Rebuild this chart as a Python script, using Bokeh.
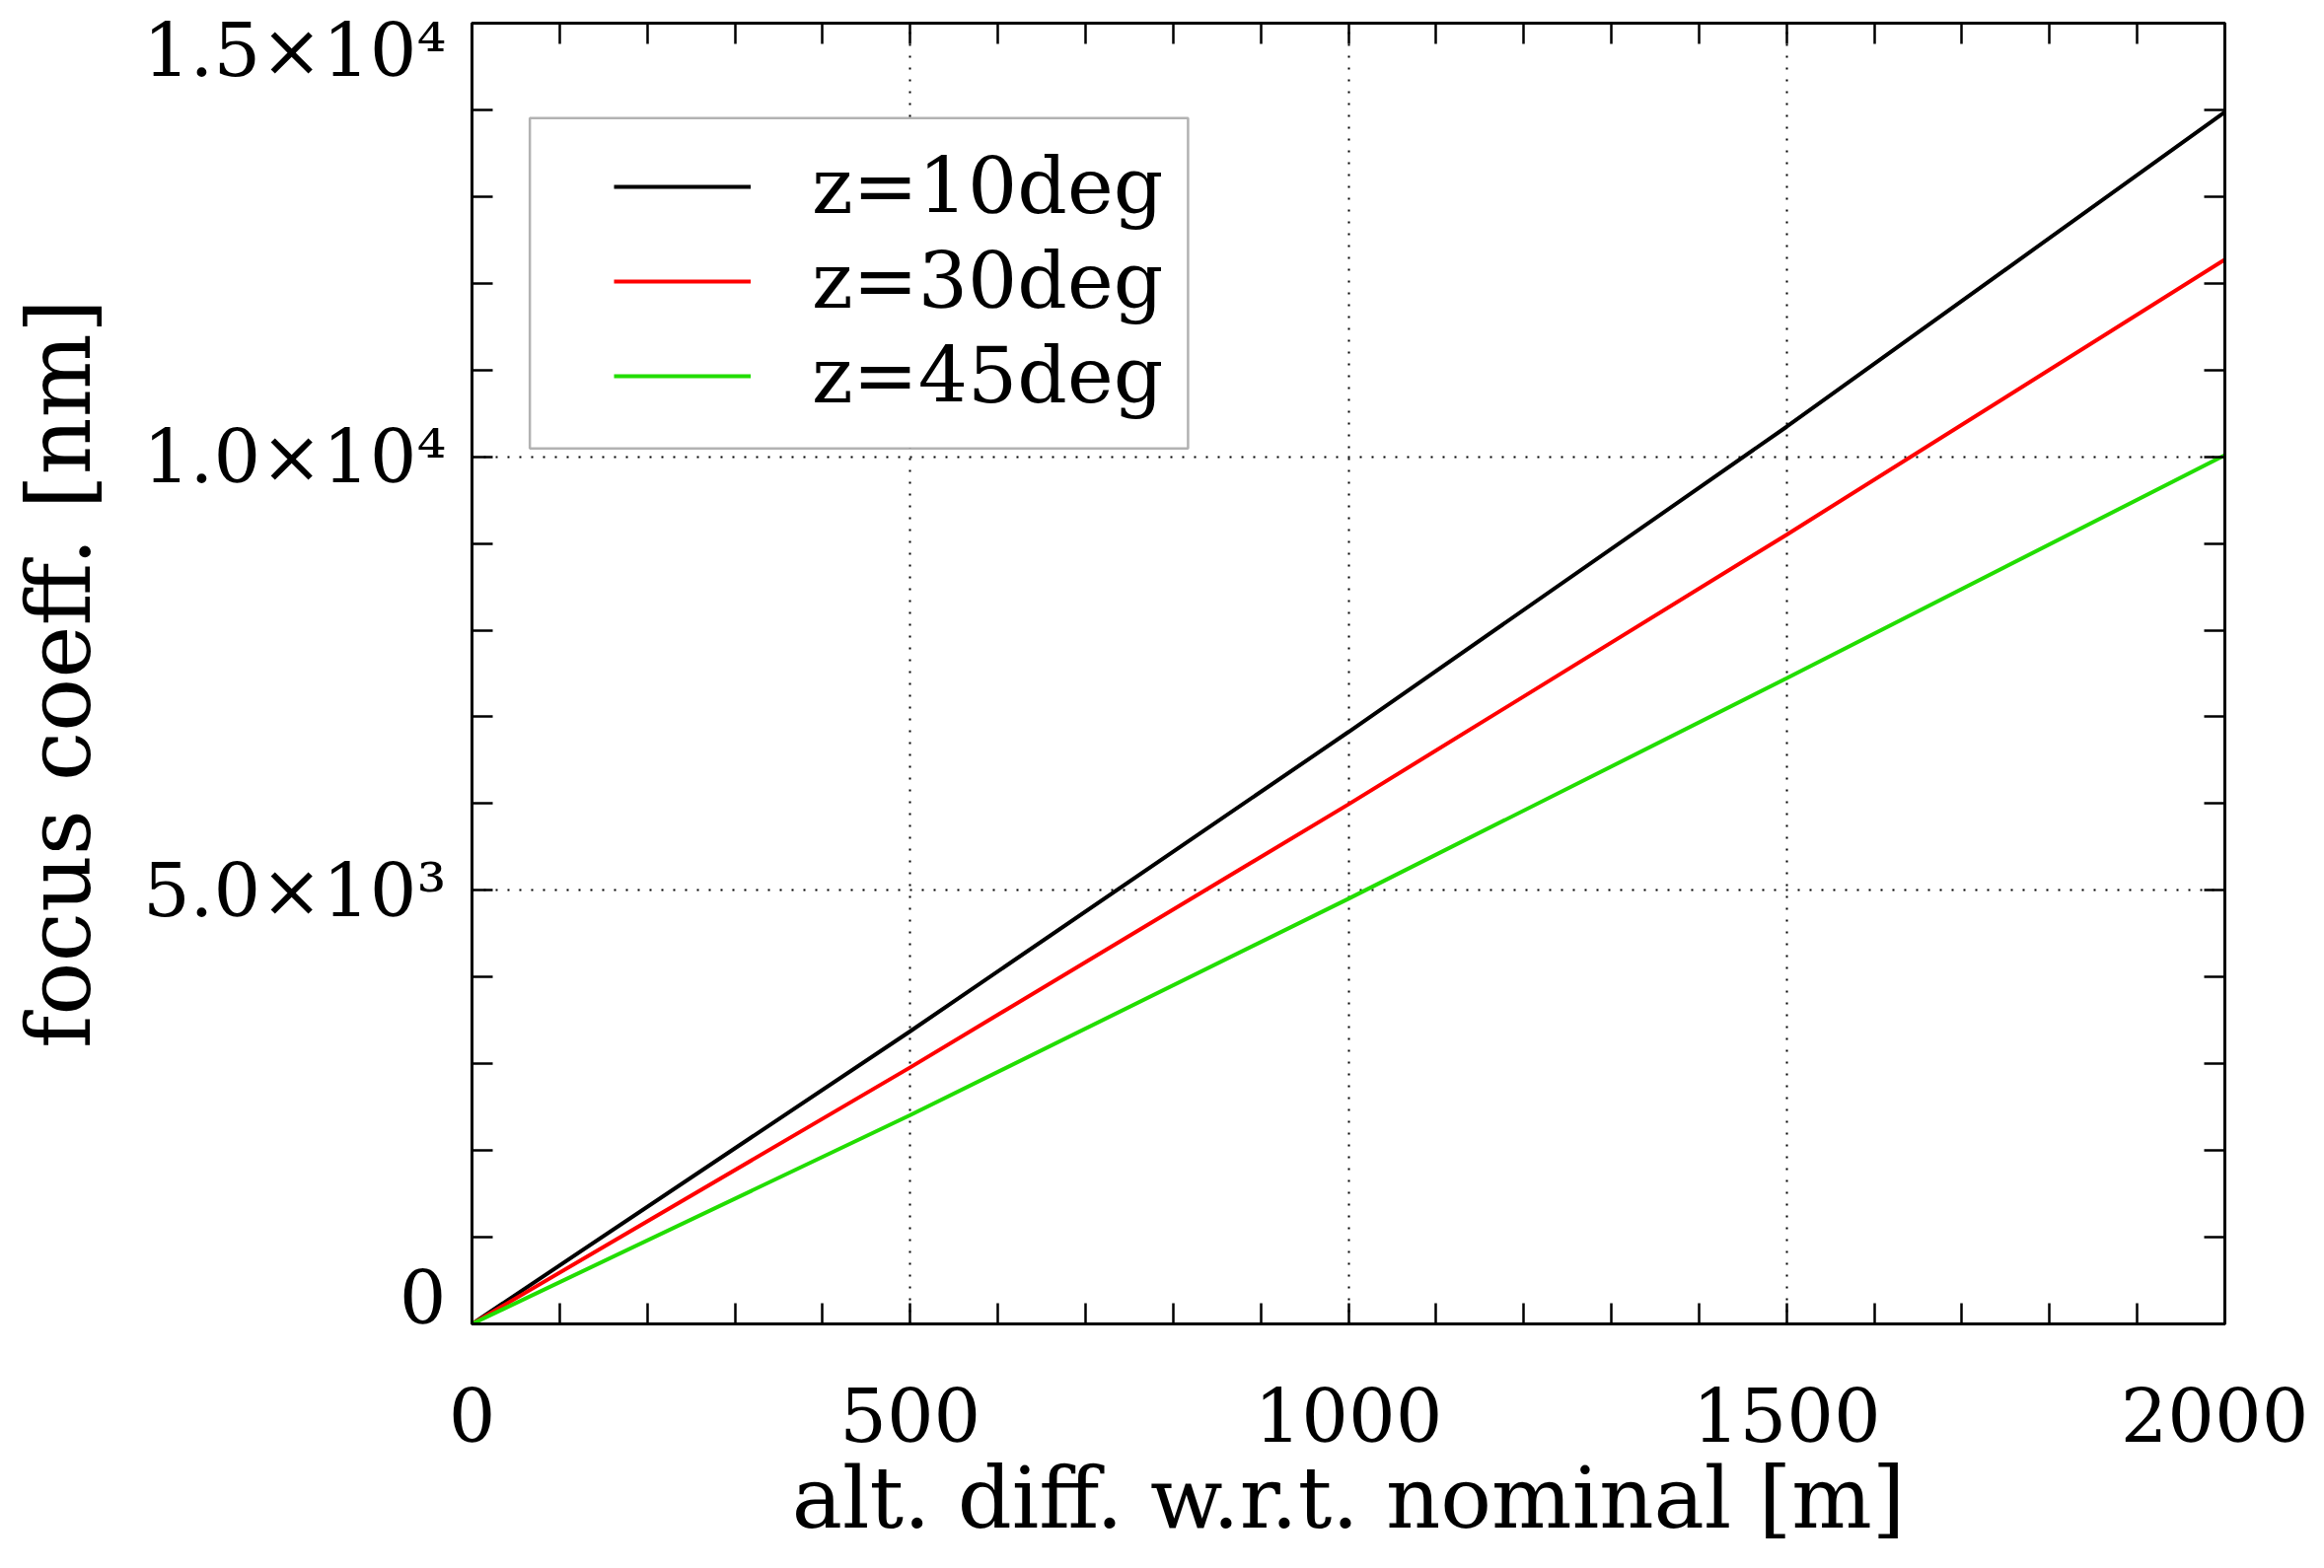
from bokeh.plotting import figure
from bokeh.models import (Range1d, SingleIntervalTicker, FixedTicker, LinearAxis,
                          Legend, LegendItem, BoxAnnotation)
from bokeh.embed import file_html
from bokeh.resources import INLINE

# ---- data ----
alt_diff = [0, 500, 1000, 1500, 2000]
z10 = [0, 3375, 6826, 10346, 13975]
z30 = [0, 2958, 5992, 9101, 12275]
z45 = [0, 2408, 4903, 7445, 10019]
series_names = ["z=10deg", "z=30deg", "z=45deg"]
series_colors = ["#000000", "#ff0000", "#22dd00"]
ytick_vals = [0, 5000, 10000, 15000]
ytick_labels = ["0", "5.0×10³", "1.0×10⁴", "1.5×10⁴"]
xlabel = "alt. diff. w.r.t. nominal [m]"
ylabel = "focus coeff. [nm]"
legend_box = dict(left=66, right=817, top=13906, bottom=10097)

FONT = "DejaVu Serif"
W, H = 2340, 1574
FRAME_H = H - 23 - 232
# end labels are kept inside the axis span (shifted ~27px inward), as in the original
label_shift_px = [27, 0, 0, -27]
units_per_px = 15000 / FRAME_H
label_anchor = [v + s * units_per_px for v, s in zip(ytick_vals, label_shift_px)]

p = figure(width=W, height=H, output_backend="svg", toolbar_location=None,
           x_range=Range1d(0, 2000), y_range=Range1d(0, 15000),
           min_border_left=478, min_border_right=85, min_border_top=23,
           min_border_bottom=232)
p.background_fill_color = "white"
p.border_fill_color = "white"
p.outline_line_color = "black"
p.outline_line_width = 3

xt = SingleIntervalTicker(interval=500, num_minor_ticks=5)
yt = SingleIntervalTicker(interval=5000, num_minor_ticks=5)

def style_axis(ax, show_labels):
    ax.axis_line_color = "black"
    ax.axis_line_width = 3
    ax.major_tick_in = 0
    ax.major_tick_out = 0
    ax.minor_tick_in = 21
    ax.minor_tick_out = 0
    ax.minor_tick_line_width = 2.5
    ax.minor_tick_line_color = "black"
    if not show_labels:
        ax.major_label_text_font_size = "0px"
        ax.major_label_text_color = None
        ax.major_label_standoff = 0
        ax.axis_label_standoff = 0

p.xaxis.ticker = xt
p.yaxis.ticker = yt
style_axis(p.xaxis[0], True)
style_axis(p.yaxis[0], False)

p.xaxis.major_label_text_font = FONT
p.xaxis.major_label_text_font_size = "75px"
p.xaxis.major_label_text_color = "black"
p.xaxis.major_label_standoff = 64
p.xaxis.axis_label = xlabel
p.xaxis.axis_label_text_font = FONT
p.xaxis.axis_label_text_font_size = "86px"
p.xaxis.axis_label_text_font_style = "normal"
p.xaxis.axis_label_text_color = "black"
p.xaxis.axis_label_standoff = 4

# y tick labels + title on a second left axis (no ticks / line of its own)
ylab_ax = LinearAxis(ticker=FixedTicker(ticks=label_anchor, minor_ticks=[]))
ylab_ax.major_label_overrides = {a: t for a, t in zip(label_anchor, ytick_labels)}
ylab_ax.axis_line_color = None
ylab_ax.major_tick_line_color = None
ylab_ax.minor_tick_line_color = None
ylab_ax.major_tick_in = 0
ylab_ax.major_tick_out = 0
ylab_ax.major_label_text_font = FONT
ylab_ax.major_label_text_font_size = "75px"
ylab_ax.major_label_text_color = "black"
ylab_ax.major_label_standoff = 26
ylab_ax.axis_label = ylabel
ylab_ax.axis_label_text_font = FONT
ylab_ax.axis_label_text_font_size = "90px"
ylab_ax.axis_label_text_font_style = "normal"
ylab_ax.axis_label_text_color = "black"
ylab_ax.axis_label_standoff = 30
p.add_layout(ylab_ax, "left")

top_ax = LinearAxis(ticker=xt)
right_ax = LinearAxis(ticker=yt)
style_axis(top_ax, False)
style_axis(right_ax, False)
p.add_layout(top_ax, "above")
p.add_layout(right_ax, "right")

for g in (p.xgrid[0], p.ygrid[0]):
    g.grid_line_color = "black"
    g.grid_line_dash = "2 10"
    g.grid_line_width = 2

r10 = p.line(alt_diff, z10, line_color=series_colors[0], line_width=4)
r30 = p.line(alt_diff, z30, line_color=series_colors[1], line_width=4)
r45 = p.line(alt_diff, z45, line_color=series_colors[2], line_width=4)

box = BoxAnnotation(fill_color="white", fill_alpha=1.0, line_color="black",
                    line_width=2.5, **legend_box)
p.add_layout(box)

legend = Legend(items=[LegendItem(label=series_names[0], renderers=[r10]),
                       LegendItem(label=series_names[1], renderers=[r30]),
                       LegendItem(label=series_names[2], renderers=[r45])],
                location=(144, 913), padding=23, spacing=0, margin=0,
                glyph_width=139, glyph_height=96, label_height=96,
                label_standoff=62, label_text_font=FONT,
                label_text_font_size="79px", label_text_color="black",
                border_line_color=None, background_fill_alpha=0)
p.add_layout(legend)

open("out.html", "w").write(file_html(p, INLINE))
